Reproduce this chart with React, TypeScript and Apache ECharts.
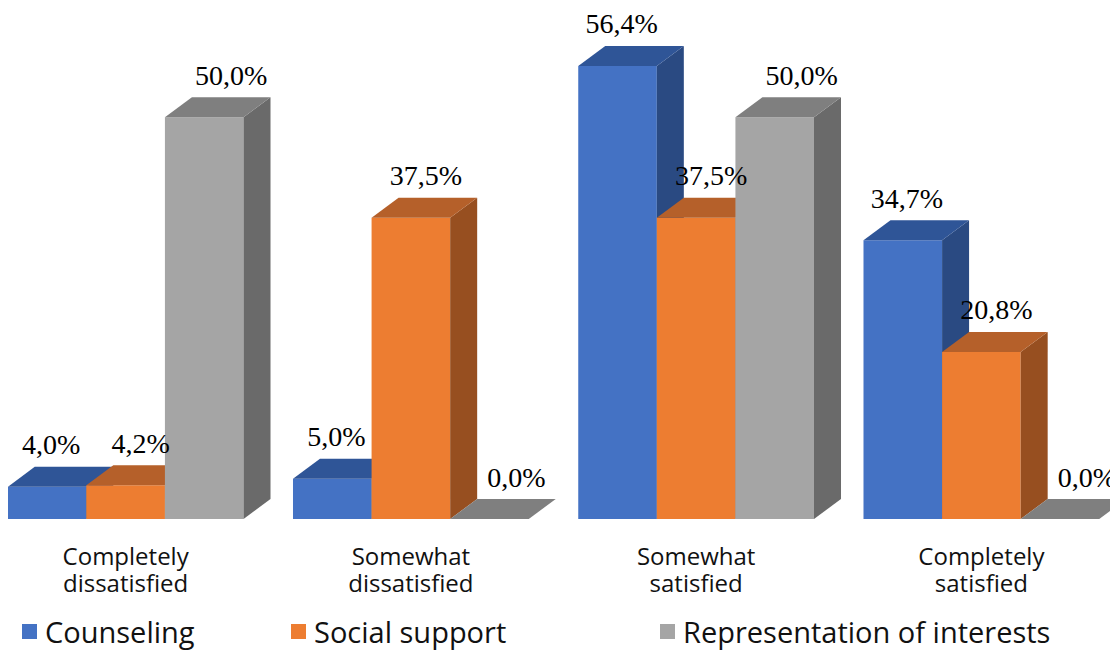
import React, { useEffect, useRef } from "react";
import * as echarts from "echarts";

const categories = [
  "Completely\ndissatisfied",
  "Somewhat\ndissatisfied",
  "Somewhat\nsatisfied",
  "Completely\nsatisfied",
];
const counseling = [4.0, 5.0, 56.4, 34.7];
const socialSupport = [4.2, 37.5, 37.5, 20.8];
const representation = [50.0, 0.0, 50.0, 0.0];
const seriesNames = ["Counseling", "Social support", "Representation of interests"];

const palettes = [
  { front: "#4472C4", top: "#2F5597", side: "#2A4A82" },
  { front: "#ED7D31", top: "#B5602A", side: "#974F20" },
  { front: "#A5A5A5", top: "#7F7F7F", side: "#6A6A6A" },
];
const labelShift = [4, 15, 27];
const DX = 27;
const DY = -20;
const BAR_FRAC = 0.2755;
const SHIFT = 17;
const EXTRA = 6;

function fmt(v: number) {
  return v.toFixed(1).replace(".", ",") + "%";
}

function makeSeries(name: string, values: number[], s: number) {
  const pal = palettes[s];
  return {
    type: "custom",
    name,
    itemStyle: { color: pal.front },
    data: values.map((v, i) => [i, v]),
    renderItem: (params: any, api: any) => {
      const ci = api.value(0);
      const v = api.value(1);
      const top = api.coord([ci, v]);
      const base = api.coord([ci, 0]);
      const band = api.size([1, 0])[0];
      const barW = band * BAR_FRAC;
      const cx = top[0];
      const yTop = top[1];
      const y0 = base[1];
      const x0 = cx - 1.5 * barW + s * barW;
      const x1 = x0 + barW;
      return {
        type: "group",
        children: [
          {
            type: "rect",
            shape: { x: x0, y: yTop, width: barW, height: y0 - yTop },
            style: { fill: pal.front },
          },
          {
            type: "polygon",
            shape: {
              points: [
                [x1, yTop],
                [x1 + DX, yTop + DY],
                [x1 + DX, y0 + DY],
                [x1, y0],
              ],
            },
            style: { fill: pal.side },
          },
          {
            type: "polygon",
            shape: {
              points: [
                [x0, yTop],
                [x1, yTop],
                [x1 + DX, yTop + DY],
                [x0 + DX, yTop + DY],
              ],
            },
            style: { fill: pal.top },
          },
          {
            type: "text",
            z2: 100,
            x: (x0 + x1) / 2 + labelShift[s],
            y: yTop - 42,
            style: {
              text: fmt(v),
              fill: "#000",
              fontFamily: "Liberation Serif",
              fontSize: 28,
              align: "center",
              verticalAlign: "middle",
            },
          },
        ],
      };
    },
  };
}

const legendLefts = [22 + SHIFT, 291 + SHIFT, 660 + SHIFT];

export default function App() {
  const ref = useRef<HTMLDivElement>(null);
  useEffect(() => {
    if (!ref.current) return;
    const chart = echarts.init(ref.current, null, { renderer: "svg" });
    chart.setOption({
      animation: false,
      backgroundColor: "#fff",
      grid: { left: 0, right: 0, top: 37, height: 482 },
      xAxis: {
        type: "category",
        data: categories,
        axisLine: { show: false },
        axisTick: { show: false },
        axisLabel: {
          fontFamily: "Open Sans",
          fontSize: 24,
          color: "#111",
          lineHeight: 27,
          margin: 23,
          interval: 0,
        },
      },
      yAxis: { type: "value", min: 0, max: 60, show: false },
      legend: seriesNames.map((n, i) => ({
        data: [n],
        left: legendLefts[i],
        top: 617,
        padding: 0,
        itemWidth: 15,
        itemHeight: 15,
        icon: "rect",
        textStyle: {
          fontFamily: "Open Sans",
          fontSize: 29,
          lineHeight: 29,
          color: "#111",
          padding: [0, 0, 0, 3],
        },
      })),
      series: [
        makeSeries(seriesNames[0], counseling, 0),
        makeSeries(seriesNames[1], socialSupport, 1),
        makeSeries(seriesNames[2], representation, 2),
      ],
    });
    return () => chart.dispose();
  }, []);
  return (
    <div
      ref={ref}
      style={{
        width: 1118 + SHIFT + EXTRA,
        height: 651,
        marginTop: -8,
        marginLeft: -8 - SHIFT,
      }}
    />
  );
}
